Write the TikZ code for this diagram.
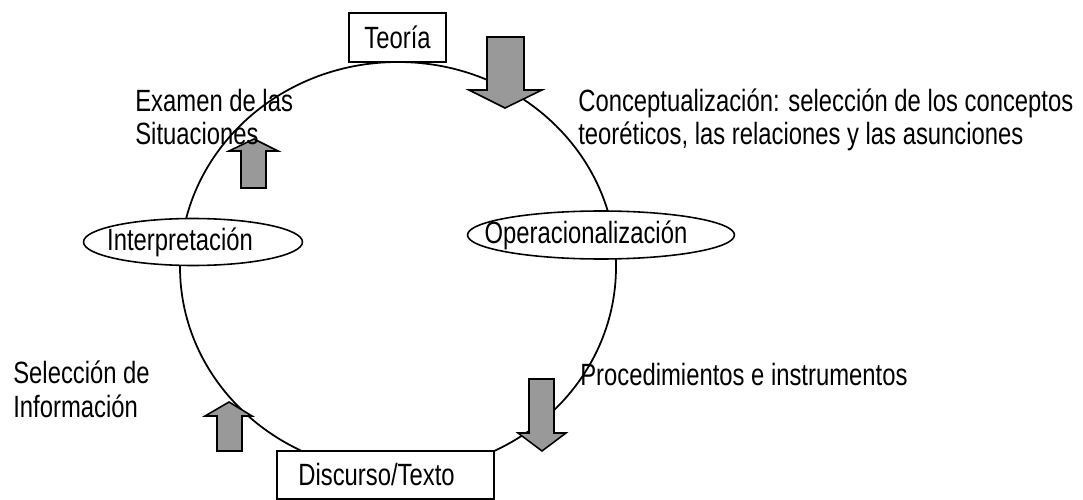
\documentclass[tikz,border=0pt]{standalone}
\usepackage{fontspec}
\setmainfont{Liberation Sans}[FakeStretch=0.775]
\usetikzlibrary{shapes.geometric}

\tikzset{
  lbl/.style={inner sep=0pt, font=\fontsize{17.5}{19}\selectfont, align=left},
  boxnode/.style={draw, fill=white, line width=0.9pt, inner sep=0pt},
  ovalnode/.style={draw, fill=white, ellipse, line width=0.9pt, inner sep=0pt},
  blockarr/.style={draw, fill=black!40, line width=0.9pt, line join=miter},
}

\begin{document}
\begin{tikzpicture}[x=0.02cm, y=-0.02cm]
  % marco de la imagen
  \useasboundingbox (0,0) rectangle (1083,500);

  % ciclo
  \draw[line width=1pt] (398,267) ellipse [x radius=218, y radius=205];

  % flechas de bloque
  \draw[blockarr] (487,37) -- (524,37) -- (524,90) -- (542,90) -- (505,108) -- (469,90) -- (487,90) -- cycle;
  \draw[blockarr] (241,188) -- (266,188) -- (266,151) -- (278,151) -- (254,139) -- (229,151) -- (241,151) -- cycle;
  \draw[blockarr] (217,451) -- (242,451) -- (242,416) -- (252,416) -- (229,402) -- (205,416) -- (217,416) -- cycle;
  \draw[blockarr] (529,379) -- (554,379) -- (554,433) -- (566,433) -- (542,451) -- (518,433) -- (529,433) -- cycle;

  % cajas
  \node[boxnode, minimum width=1.94cm, minimum height=0.98cm] (teoria) at (397.5,37.5) {};
  \node[lbl] (teoriatxt) at (teoria.center) {Teoría};
  \node[boxnode, minimum width=4.34cm, minimum height=0.96cm] (discurso) at (385.5,475) {};
  \node[lbl] (discursotxt) at ([xshift=-0.18cm]discurso.center) {Discurso/Texto};

  % elipses
  \node[ovalnode, minimum width=4.38cm, minimum height=0.94cm] (interp) at (193,242) {};
  \node[lbl] (interptxt) at ([xshift=-0.26cm]interp.center) {Interpretación};
  \node[ovalnode, minimum width=5.34cm, minimum height=0.96cm] (operac) at (601,235) {};
  \node[lbl] (operactxt) at ([xshift=-0.3cm]operac.center) {Operacionalización};

  % textos (base = linea inferior)
  \node[lbl, anchor=base west] (examen) at (135,145) {Examen de las\\Situaciones};
  \node[lbl, anchor=base west] (concep) at (578,145) {Conceptualización: selección de los conceptos\\teoréticos, las relaciones y las asunciones};
  \node[lbl, anchor=base west] (selecc) at (13,417) {Selección de\\Información};
  \node[lbl, anchor=base west] (proced) at (580,385) {Procedimientos e instrumentos};
\end{tikzpicture}
\end{document}
